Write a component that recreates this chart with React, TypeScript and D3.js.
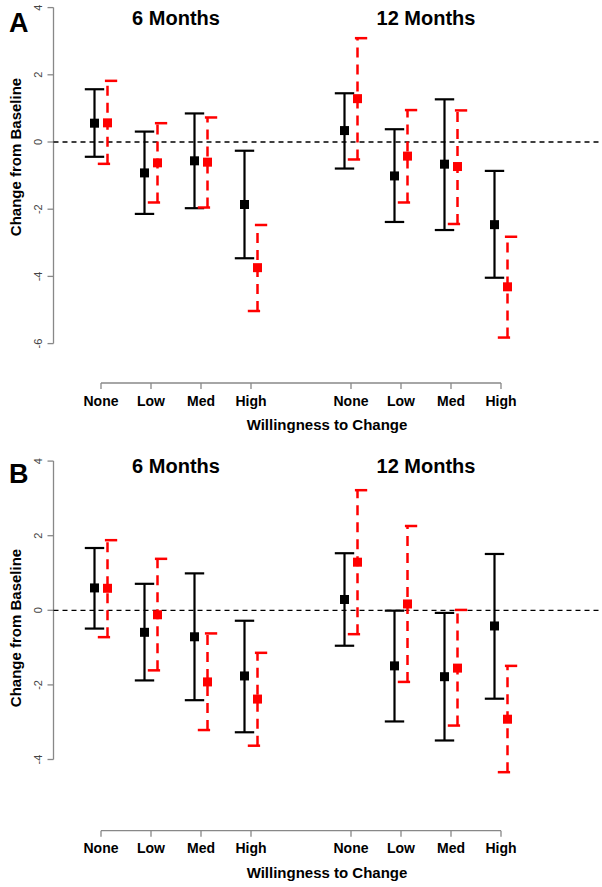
import React from "react";
import * as d3 from "d3";

// ---- data ----
const categories = ["None", "Low", "Med", "High"];
const timepoints = ["6 Months", "12 Months"];
const panelLetters = ["A", "B"];
const yTicksA = [-6, -4, -2, 0, 2, 4];
const yTicksB = [-4, -2, 0, 2, 4];
const yDomainA = [-6, 4];
const yDomainB = [-4, 4];
const xLabel = "Willingness to Change";
const yLabel = "Change from Baseline";

// order: 6mo None, Low, Med, High, 12mo None, Low, Med, High
const aBlackMean = [0.56, -0.92, -0.56, -1.86, 0.34, -1.01, -0.66, -2.46];
const aBlackLow = [-0.44, -2.14, -1.97, -3.46, -0.79, -2.38, -2.62, -4.04];
const aBlackHigh = [1.57, 0.31, 0.85, -0.26, 1.45, 0.38, 1.27, -0.86];
const aRedMean = [0.57, -0.62, -0.6, -3.74, 1.29, -0.42, -0.73, -4.31];
const aRedLow = [-0.65, -1.8, -1.95, -5.03, -0.52, -1.8, -2.44, -5.82];
const aRedHigh = [1.82, 0.56, 0.73, -2.47, 3.09, 0.95, 0.94, -2.82];

const bBlackMean = [0.6, -0.59, -0.71, -1.76, 0.29, -1.49, -1.78, -0.42];
const bBlackLow = [-0.49, -1.88, -2.41, -3.27, -0.95, -2.98, -3.49, -2.37];
const bBlackHigh = [1.67, 0.71, 0.99, -0.28, 1.53, -0.01, -0.07, 1.51];
const bRedMean = [0.59, -0.12, -1.92, -2.38, 1.29, 0.17, -1.55, -2.92];
const bRedLow = [-0.72, -1.61, -3.21, -3.63, -0.64, -1.92, -3.09, -4.34];
const bRedHigh = [1.88, 1.38, -0.62, -1.14, 3.22, 2.26, 0.01, -1.49];

const xPositions = [1, 2, 3, 4, 6, 7, 8, 9];

const FONT = "'Liberation Sans', Arial, Helvetica, sans-serif";

type Series = { mean: number[]; low: number[]; high: number[] };

type PanelCfg = {
  letter: string;
  yDomain: number[];
  yRange: [number, number];
  yTicks: number[];
  xAxisY: number;
  titleY: number;
  letterY: number;
  yLabelCenter: number;
  black: Series;
  red: Series;
};

const x = d3.scaleLinear().domain([1, 9]).range([101, 501]);
const offset = 0.13;
const axisX = 53.5;

function Panel({ cfg }: { cfg: PanelCfg }) {
  const y = d3.scaleLinear().domain(cfg.yDomain).range(cfg.yRange);
  const capHalf = 9.7;
  const sq = 9;
  return (
    <g>
      <text x={9} y={cfg.letterY} fontFamily={FONT} fontWeight="bold" fontSize={27} fill="#000">
        {cfg.letter}
      </text>
      {timepoints.map((t, i) => (
        <text
          key={t}
          x={x(i === 0 ? 2.5 : 7.5)}
          y={cfg.titleY}
          textAnchor="middle"
          fontFamily={FONT}
          fontWeight="bold"
          fontSize={20}
        >
          {t}
        </text>
      ))}
      {/* y axis */}
      <line x1={axisX} x2={axisX} y1={y(cfg.yDomain[0])} y2={y(cfg.yDomain[1])} stroke="#888" strokeWidth={1.3} />
      {cfg.yTicks.map((t) => (
        <g key={t}>
          <line x1={axisX - 6} x2={axisX} y1={y(t)} y2={y(t)} stroke="#888" strokeWidth={1.3} />
          <text
            transform={`translate(37.5,${y(t)}) rotate(-90)`}
            textAnchor="middle"
            dominantBaseline="central"
            fontFamily={FONT}
            fontSize={11}
            fill="#444"
          >
            {t}
          </text>
        </g>
      ))}
      <text
        transform={`translate(20.5,${cfg.yLabelCenter}) rotate(-90)`}
        textAnchor="middle"
        fontFamily={FONT}
        fontWeight="bold"
        fontSize={15}
      >
        {yLabel}
      </text>
      {/* x axis */}
      <line x1={x(1)} x2={x(9)} y1={cfg.xAxisY} y2={cfg.xAxisY} stroke="#888" strokeWidth={1.3} />
      {xPositions.map((p, i) => (
        <g key={p}>
          <line x1={x(p)} x2={x(p)} y1={cfg.xAxisY} y2={cfg.xAxisY + 6} stroke="#888" strokeWidth={1.3} />
          <text
            x={x(p)}
            y={cfg.xAxisY + 22.6}
            textAnchor="middle"
            fontFamily={FONT}
            fontWeight="bold"
            fontSize={14}
          >
            {categories[i % 4]}
          </text>
        </g>
      ))}
      <text
        x={327}
        y={cfg.xAxisY + 46.8}
        textAnchor="middle"
        fontFamily={FONT}
        fontWeight="bold"
        fontSize={15}
      >
        {xLabel}
      </text>
      {/* zero line */}
      <line x1={axisX} x2={602} y1={y(0)} y2={y(0)} stroke="#000" strokeWidth={1.3} strokeDasharray="5 4" />
      {/* black series */}
      {xPositions.map((p, i) => {
        const cx = x(p - offset);
        return (
          <g key={"b" + p}>
            <line x1={cx} x2={cx} y1={y(cfg.black.low[i])} y2={y(cfg.black.high[i])} stroke="#000" strokeWidth={2.2} />
            <line x1={cx - capHalf} x2={cx + capHalf} y1={y(cfg.black.low[i])} y2={y(cfg.black.low[i])} stroke="#000" strokeWidth={2.2} />
            <line x1={cx - capHalf} x2={cx + capHalf} y1={y(cfg.black.high[i])} y2={y(cfg.black.high[i])} stroke="#000" strokeWidth={2.2} />
            <rect x={cx - sq / 2} y={y(cfg.black.mean[i]) - sq / 2} width={sq} height={sq} fill="#000" />
          </g>
        );
      })}
      {/* red series */}
      {xPositions.map((p, i) => {
        const cx = x(p + offset);
        return (
          <g key={"r" + p}>
            <line x1={cx} x2={cx} y1={y(cfg.red.low[i])} y2={y(cfg.red.high[i])} stroke="#f00" strokeWidth={2.5} strokeDasharray="10 7" />
            <line x1={cx - capHalf} x2={cx + capHalf} y1={y(cfg.red.low[i])} y2={y(cfg.red.low[i])} stroke="#f00" strokeWidth={2.5} strokeDasharray="12.3 40" />
            <line x1={cx + capHalf} x2={cx - capHalf} y1={y(cfg.red.high[i])} y2={y(cfg.red.high[i])} stroke="#f00" strokeWidth={2.5} strokeDasharray="12.3 40" />
            <rect x={cx - sq / 2} y={y(cfg.red.mean[i]) - sq / 2} width={sq} height={sq} fill="#f00" />
          </g>
        );
      })}
    </g>
  );
}

export default function App() {
  const panels: PanelCfg[] = [
    {
      letter: panelLetters[0],
      yDomain: yDomainA,
      yRange: [343.6, 7.6],
      yTicks: yTicksA,
      xAxisY: 383,
      titleY: 25,
      letterY: 32,
      yLabelCenter: 157,
      black: { mean: aBlackMean, low: aBlackLow, high: aBlackHigh },
      red: { mean: aRedMean, low: aRedLow, high: aRedHigh },
    },
    {
      letter: panelLetters[1],
      yDomain: yDomainB,
      yRange: [759.5, 461.1],
      yTicks: yTicksB,
      xAxisY: 830.7,
      titleY: 473,
      letterY: 483,
      yLabelCenter: 628,
      black: { mean: bBlackMean, low: bBlackLow, high: bBlackHigh },
      red: { mean: bRedMean, low: bRedLow, high: bRedHigh },
    },
  ];
  return (
    <svg
      width={602}
      height={887}
      viewBox="0 0 602 887"
      style={{ position: "absolute", left: 0, top: 0, background: "#fff" }}
    >
      <rect x={0} y={0} width={602} height={887} fill="#fff" />
      {panels.map((p) => (
        <Panel key={p.letter} cfg={p} />
      ))}
    </svg>
  );
}
